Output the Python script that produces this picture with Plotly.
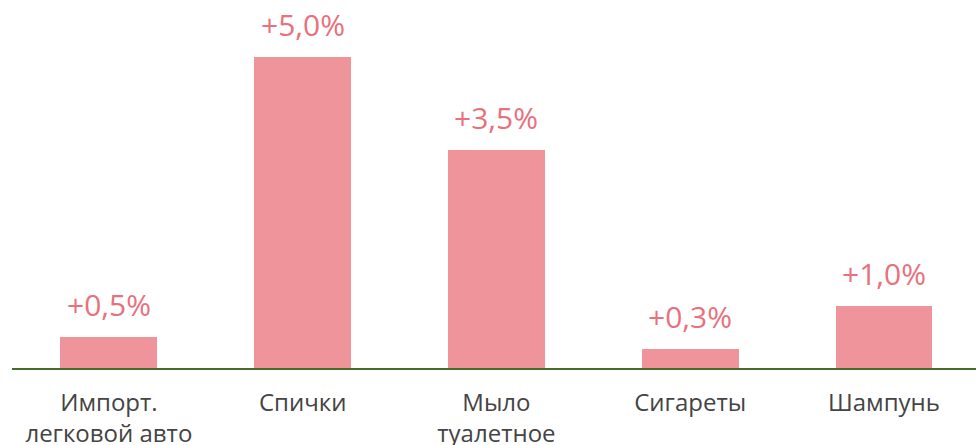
import plotly.graph_objects as go

categories = ["Импорт.<br>легковой авто", "Спички", "Мыло<br>туалетное", "Сигареты", "Шампунь"]
values = [0.5, 5.0, 3.5, 0.3, 1.0]
value_labels = ["+0,5%", "+5,0%", "+3,5%", "+0,3%", "+1,0%"]

FONT = "'Open Sans', 'Noto Sans', sans-serif"
BAR = "#f0949c"
TXT = "#e8717d"

fig = go.Figure()
fig.add_trace(go.Bar(
    x=list(range(len(categories))), y=values, width=0.5,
    marker=dict(color=BAR, line=dict(width=0)),
    hoverinfo="skip",
))
for i, (v, t) in enumerate(zip(values, value_labels)):
    fig.add_annotation(x=i, y=v, text=t, showarrow=False, yanchor="bottom",
                       yshift=10, font=dict(family=FONT, size=30, color=TXT))

fig.update_layout(
    width=976, height=445,
    margin=dict(l=12, r=0, t=20, b=77, autoexpand=False),
    paper_bgcolor="white", plot_bgcolor="white",
    showlegend=False, bargap=0,
    font=dict(family=FONT),
)
fig.update_xaxes(
    range=[-0.5, 4.475], automargin=False,
    tickvals=list(range(len(categories))), ticktext=categories,
    tickfont=dict(family=FONT, size=24, color="#444444"),
    showline=True, linecolor="#4a6b2e", linewidth=2,
    showgrid=False, zeroline=False, ticks="", ticklabelstandoff=12,
)
fig.update_yaxes(range=[0, 5.59], visible=False, showgrid=False, zeroline=False, automargin=False)

fig.write_html("out.html", config={"displayModeBar": False},
               post_script="document.body.style.margin='0';")
